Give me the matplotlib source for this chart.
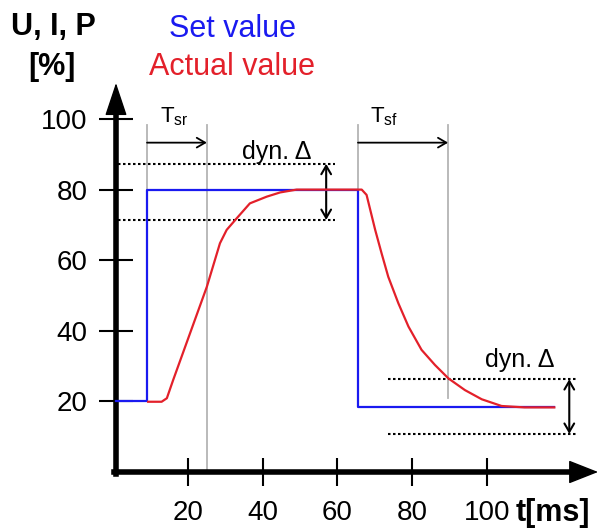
import matplotlib
matplotlib.use("Agg")
import matplotlib.pyplot as plt

plt.rcParams['font.family'] = ['Liberation Sans', 'DejaVu Sans']
plt.rcParams['mathtext.fontset'] = 'custom'
plt.rcParams['mathtext.rm'] = 'Liberation Sans'
plt.rcParams['mathtext.it'] = 'Liberation Sans:italic'

# ---- data ----
set_x = [0.8, 9.1, 9.1, 65.5, 65.5, 118]
set_y = [20, 20, 80, 80, 18.3, 18.3]
actual_x = [9.4, 13.0, 14.4, 16.1, 20.6, 25.1, 28.6, 30.4, 33.1, 36.6, 41.1, 44.7, 49.1,
            66.5, 67.8, 70.1, 71.8, 73.6, 76.3, 79.0, 82.5, 86.1, 89.7, 94.1, 98.6,
            103.9, 110.0, 118.0]
actual_y = [19.9, 19.9, 20.9, 26.1, 39.3, 52.5, 64.8, 68.6, 71.9, 76.1, 78.0, 79.2, 80.0,
            80.0, 78.5, 68.6, 62.0, 55.3, 47.8, 41.2, 34.6, 30.3, 26.5, 23.2, 20.6,
            18.7, 18.3, 18.3]
xticks = [20, 40, 60, 80, 100]
yticks = [20, 40, 60, 80, 100]
guide_x = [9.1, 25.1, 65.5, 89.6]          # grey time markers
guide_bottom = [80, 0, 80, 21]
guide_top = 98.3
t_sr = (9.1, 25.1)
t_sf = (65.5, 89.6)
t_arrow_y = 93.3
band_top = (87.3, 71.4)       # dyn. delta band around 80
band_top_x = (1.3, 59.4, 57.0)
band_bot = (26.3, 10.8)       # dyn. delta band around 18
band_bot_x = (73.5, 124.0, 122.0)

BLUE = '#1a1af0'
RED = '#e3202a'
GREY = '#b4b4b4'

fig = plt.figure(figsize=(6.06, 5.28), dpi=100)
W, H = 606, 528
ax = fig.add_axes([100 / W, 28 / H, 506 / W, 430 / H])
ax.set_xlim((100 - 113) / 3.74, (606 - 113) / 3.74)
ax.set_ylim((472 - 500) / 3.53, (472 - 70) / 3.53)

for s in ['top', 'right']:
    ax.spines[s].set_visible(False)
ax.spines['left'].set_position(('data', 0.8))
ax.spines['bottom'].set_position(('data', 0))
ax.spines['left'].set_linewidth(4)
ax.spines['bottom'].set_linewidth(4)
ax.spines['left'].set_bounds(-0.55, 104)
ax.spines['bottom'].set_bounds(0.3, 124)

ax.set_xticks(xticks)
ax.set_yticks(yticks)
ax.tick_params(axis='y', direction='inout', length=25, width=1.5, pad=8,
               labelsize=20)
ax.tick_params(axis='x', direction='inout', length=20, width=1.5, pad=10,
               labelsize=20)

# axis arrow heads
ax.annotate('', xy=(0.8, 110.2), xytext=(0.8, 100),
            arrowprops=dict(arrowstyle='-|>,head_length=21,head_width=7',
                            mutation_scale=1, color='black', lw=1,
                            shrinkA=0, shrinkB=0))
ax.annotate('', xy=(129.7, 0), xytext=(120, 0),
            arrowprops=dict(arrowstyle='-|>,head_length=19,head_width=7.5',
                            mutation_scale=1, color='black', lw=1,
                            shrinkA=0, shrinkB=0))

# grey guide lines
for gx, gb in zip(guide_x, guide_bottom):
    ax.plot([gx, gx], [gb, guide_top], color=GREY, lw=1.3, zorder=1)

# dotted bands
dot = (0, (1.2, 1.2))
for yy in band_top:
    ax.plot([band_top_x[0], band_top_x[1]], [yy, yy], color='black', lw=1.5,
            linestyle=dot, zorder=2)
for yy in band_bot:
    ax.plot([band_bot_x[0], band_bot_x[1]], [yy, yy], color='black', lw=1.5,
            linestyle=dot, zorder=2)

arr = dict(arrowstyle='<->,head_length=0.6,head_width=0.35', color='black',
           lw=1.5, shrinkA=0, shrinkB=0, mutation_scale=10)
ax.annotate('', xy=(band_top_x[2], band_top[0]), xytext=(band_top_x[2], band_top[1]),
            arrowprops=arr)
ax.annotate('', xy=(band_bot_x[2], band_bot[0]), xytext=(band_bot_x[2], band_bot[1]),
            arrowprops=arr)

harr = dict(arrowstyle='->,head_length=0.6,head_width=0.35', color='black',
            lw=1.3, shrinkA=0, shrinkB=0, mutation_scale=10)
ax.annotate('', xy=(t_sr[1], t_arrow_y), xytext=(t_sr[0], t_arrow_y), arrowprops=harr)
ax.annotate('', xy=(t_sf[1], t_arrow_y), xytext=(t_sf[0], t_arrow_y), arrowprops=harr)

# series
ax.plot(set_x, set_y, color=BLUE, lw=1.6, zorder=3)
ax.plot(actual_x, actual_y, color=RED, lw=1.6, zorder=4, solid_joinstyle='round')

# labels in chart
ax.text(12.6, 98.9, r'T$_{\mathrm{sr}}$', fontsize=16, ha='left', va='baseline')
ax.text(68.7, 98.9, r'T$_{\mathrm{sf}}$', fontsize=16, ha='left', va='baseline')
ax.text(34.5, 88.6, 'dyn. Δ', fontsize=18, ha='left', va='baseline')
ax.text(99.5, 29.8, 'dyn. Δ', fontsize=18, ha='left', va='baseline')

# header texts
fig.text(53.5 / W, 1 - 35 / H, 'U, I, P', fontsize=22, fontweight='bold',
         ha='center', va='baseline')
fig.text(52 / W, 1 - 75 / H, '[%]', fontsize=22, fontweight='bold',
         ha='center', va='baseline')
fig.text(232 / W, 1 - 37 / H, 'Set value', fontsize=22, color=BLUE,
         ha='center', va='baseline')
fig.text(232 / W, 1 - 75 / H, 'Actual value', fontsize=22, color=RED,
         ha='center', va='baseline')
fig.text(516 / W, 1 - 521 / H, 't[ms]', fontsize=22, fontweight='bold',
         ha='left', va='baseline')

fig.savefig('out.png', dpi=100)
